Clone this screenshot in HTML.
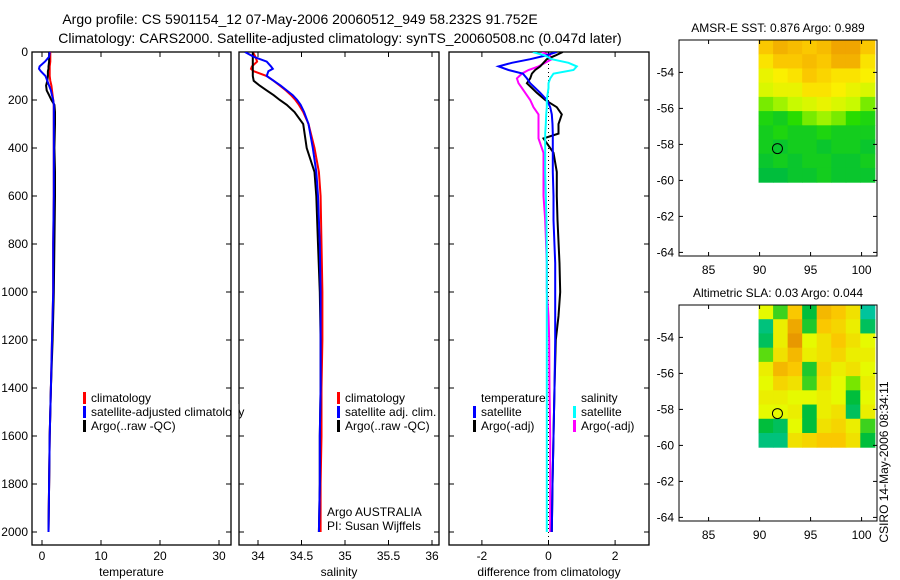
<!DOCTYPE html>
<html><head><meta charset="utf-8">
<style>
body{margin:0;background:#fff;}
svg{display:block;font-family:"Liberation Sans",sans-serif;}
</style></head>
<body>
<svg id="fig" width="900" height="580" viewBox="0 0 900 580" xmlns="http://www.w3.org/2000/svg">
<g id="plots"></g>
<text x="300" y="24" font-size="14" text-anchor="middle">Argo profile: CS 5901154_12 07-May-2006 20060512_949 58.232S 91.752E</text>
<text x="340" y="43" font-size="14" text-anchor="middle">Climatology: CARS2000. Satellite-adjusted climatology: synTS_20060508.nc (0.047d later)</text>
<text x="778" y="32" font-size="12" text-anchor="middle">AMSR-E SST: 0.876 Argo: 0.989</text>
<text x="778" y="297" font-size="12" text-anchor="middle">Altimetric SLA: 0.03 Argo: 0.044</text>
<text transform="translate(888,462) rotate(-90)" font-size="12" text-anchor="middle">CSIRO 14-May-2006 08:34:11</text>
</svg>
<script>
// ---- profile data ----
const depthLevels = [0,20,40,60,70,80,100,120,140,160,180,200,220,250,300,400,500,600,800,1000,1200,1400,1600,1800,2000];
const tempClim = [1.4,1.4,1.4,1.3,1.3,1.3,1.3,1.4,1.6,1.7,1.8,1.9,2.0,2.0,2.0,2.0,2.0,2.0,1.9,1.9,1.7,1.5,1.3,1.2,1.1];
const tempSat  = [1.3,1.2,0.5,-0.4,-0.5,-0.2,0.6,0.9,1.2,1.5,1.7,1.9,2.0,2.0,2.0,2.0,2.0,2.0,1.9,1.9,1.7,1.5,1.3,1.2,1.1];
const tempArgo = [1.2,1.2,1.2,1.1,1.1,1.0,1.0,0.9,0.7,0.8,1.2,1.6,2.1,2.2,2.2,2.1,2.2,2.2,2.1,2.0,1.8,1.5,1.3,1.2,1.1];
const salClim = [33.94,33.97,33.99,33.93,33.92,33.95,34.10,34.18,34.25,34.32,34.38,34.43,34.47,34.52,34.58,34.65,34.70,34.72,34.73,34.74,34.74,34.73,34.73,34.72,34.72];
const salSat  = [33.85,33.95,34.10,34.15,34.17,34.12,34.10,34.18,34.26,34.33,34.40,34.45,34.49,34.53,34.58,34.63,34.67,34.69,34.71,34.72,34.72,34.72,34.71,34.71,34.70];
const salArgo = [33.94,33.94,33.94,33.94,33.94,33.94,33.94,33.95,34.02,34.10,34.18,34.25,34.33,34.42,34.52,34.56,34.65,34.67,34.69,34.71,34.72,34.72,34.71,34.71,34.70];
const diffDepths = [0,15,30,45,60,75,90,110,130,150,170,200,230,260,300,340,360,420,500,600,700,880,1000,1100,1200,1400,1600,1800,2000];
const dTempSat  = [0.25,-0.1,-0.55,-1.1,-1.5,-1.2,-0.77,-0.65,-0.55,-0.4,-0.25,-0.05,0.05,0.1,0.12,0.13,0.13,0.13,0.13,0.15,0.15,0.2,0.2,0.2,0.2,0.18,0.15,0.12,0.1];
const dTempArgo = [0.43,0.2,-0.05,-0.15,-0.25,-0.4,-0.5,-0.55,-0.65,-0.5,-0.35,-0.1,0.25,0.4,0.3,0.3,-0.15,0.15,0.25,0.25,0.27,0.33,0.35,0.3,0.22,0.18,0.15,0.12,0.1];
const dSalSat   = [-0.47,-0.1,0.1,0.6,0.85,0.75,0.15,0.05,0,0,-0.02,-0.05,-0.05,-0.07,-0.08,-0.1,-0.1,-0.1,-0.1,-0.08,-0.06,-0.05,-0.05,-0.05,-0.05,-0.05,-0.05,-0.05,-0.05];
const dSalArgo  = [-0.2,0.05,0.1,-0.1,-0.3,-0.6,-0.8,-0.95,-0.9,-0.8,-0.7,-0.55,-0.45,-0.3,-0.3,-0.3,-0.3,-0.15,-0.15,-0.15,-0.1,-0.05,-0.05,0,0.02,0.03,0.05,0.05,0.05];
const depthTicks = [0,200,400,600,800,1000,1200,1400,1600,1800,2000];
const tempTicks = [0,10,20,30];
const salTicks = [34,34.5,35,35.5,36];
const salTickLabels = ["34","34.5","35","35.5","36"];
const diffTicks = [-2,0,2];
// ---- map data ----
const lonTicks = [85,90,95,100];
const latTicks = [-54,-56,-58,-60,-62,-64];
const sstGrid = [
[.7,.8,.75,.7,.75,.85,.85,.7],
[.6,.7,.7,.75,.7,.8,.8,.6],
[.5,.55,.6,.7,.65,.6,.6,.55],
[.45,.5,.5,.6,.6,.55,.5,.45],
[.3,.35,.4,.45,.5,.45,.4,.3],
[.15,.1,.2,.3,.35,.3,.2,.15],
[.1,.15,.1,.1,.15,.1,.1,.1],
[.1,.05,.1,.1,.05,.1,.1,.05],
[.05,.1,.05,.1,.1,.05,.05,.1],
[0,0,.05,.05,.1,.05,.05,.05]];
const slaGrid = [
[.1,-.3,.5,-.5,.6,.5,.3,-.8],
[-.7,.2,.7,-.4,.5,.4,.2,-.6],
[-.6,.2,.8,.1,.3,.5,.3,.1],
[-.2,.3,.6,.2,.3,.4,.2,.2],
[.2,.6,.5,-.4,.4,.2,.3,.1],
[.1,.4,.3,-.3,.3,.1,-.1,.2],
[.2,.2,.1,.1,.2,.1,-.5,.1],
[.1,.1,.2,-.5,.2,.3,-.6,.2],
[-.5,-.6,.1,-.5,.3,.4,.2,-.3],
[-.7,-.7,.3,.4,.5,.5,.3,-.5]];
const floatLon = 91.752, floatLat = -58.232;
const gridLon = [89.9,101.3], gridLat = [-52.2,-60.1];

const NS="http://www.w3.org/2000/svg";
const root=document.getElementById('plots');
function mk(tag,attrs,parent){const e=document.createElementNS(NS,tag);for(const k in attrs)e.setAttribute(k,attrs[k]);(parent||root).appendChild(e);return e;}
const TOP=52, BOT=545;
const yDepth=d=>TOP+d*0.24;

function panel(name,x0,x1,xs,ticks,labels,title,showDepth){
  const g=mk('g',{});
  
  
  const cp=mk('clipPath',{id:'cp-'+name},g);
  mk('rect',{x:x0,y:TOP,width:x1-x0,height:BOT-TOP},cp);
  const r=mk('rect',{x:x0,y:TOP,width:x1-x0,height:BOT-TOP,fill:'none',stroke:'#000','stroke-width':1.3},g);
  
  
  ticks.forEach((t,i)=>{const x=xs(t);
    mk('line',{x1:x,x2:x,y1:TOP,y2:TOP+5,stroke:'#000'},g);
    mk('line',{x1:x,x2:x,y1:BOT,y2:BOT-5,stroke:'#000'},g);
    const tx=mk('text',{x:x,y:560,'font-size':12,'text-anchor':'middle'},g);tx.textContent=labels[i];
    
    
  });
  depthTicks.forEach(d=>{const y=yDepth(d);
    mk('line',{x1:x0,x2:x0+5,y1:y,y2:y,stroke:'#000'},g);
    mk('line',{x1:x1,x2:x1-5,y1:y,y2:y,stroke:'#000'},g);
    if(showDepth){const tx=mk('text',{x:x0-4,y:y+4,'font-size':12,'text-anchor':'end'},g);tx.textContent=d;
      
      }
  });
  const tt=mk('text',{x:(x0+x1)/2,y:576,'font-size':12,'text-anchor':'middle'},g);tt.textContent=title;
  
  
  return mk('g',{'clip-path':'url(#cp-'+name+')'},g);
}
function line(g,xs,vals,depths,color,name,w){
  const pts=vals.map((v,i)=>xs(v).toFixed(1)+','+yDepth(depths[i]).toFixed(1)).join(' ');
  const p=mk('polyline',{points:pts,fill:'none',stroke:color,'stroke-width':w||2},g);
  
  
}
function legend(x,y,color,label,name){
  if(color){mk('rect',{x:x,y:y-10,width:3,height:12,fill:color});}
  const t=mk('text',{x:x+8,y:y,'font-size':12});t.textContent=label;
  
  
}
// temperature
const xT=v=>42+5.9*v;
let g=panel('temperature-panel',32,231,xT,tempTicks,tempTicks.map(String),'temperature',true);
line(g,xT,tempClim,depthLevels,'#f00','temp-climatology-line');
line(g,xT,tempArgo,depthLevels,'#000','temp-argo-line');
line(g,xT,tempSat,depthLevels,'#00f','temp-satellite-line');
// salinity
const xS=v=>258+87*(v-34);
g=panel('salinity-panel',239,439,xS,salTicks,salTickLabels,'salinity',false);
line(g,xS,salClim,depthLevels,'#f00','sal-climatology-line');
line(g,xS,salArgo,depthLevels,'#000','sal-argo-line');
line(g,xS,salSat,depthLevels,'#00f','sal-satellite-line');
// difference
const xD=v=>548.5+33.3*v;
g=panel('difference-panel',449,649,xD,diffTicks,diffTicks.map(String),'difference from climatology',false);
mk('line',{x1:xD(0),x2:xD(0),y1:TOP,y2:BOT,stroke:'#000','stroke-dasharray':'1,3'},g);
line(g,xD,dSalArgo,diffDepths,'#f0f','diff-sal-argo-line');
line(g,xD,dTempArgo,diffDepths,'#000','diff-temp-argo-line');
line(g,xD,dTempSat,diffDepths,'#00f','diff-temp-satellite-line');
line(g,xD,dSalSat,diffDepths,'#0ff','diff-sal-satellite-line');
// legends
legend(83,402,'#f00','climatology','legend-climatology');
legend(83,416,'#00f','satellite-adjusted climatology','legend-satellite-adjusted');
legend(83,430,'#000','Argo(..raw -QC)','legend-argo-raw');
legend(337,402,'#f00','climatology','legend-sal-climatology');
legend(337,416,'#00f','satellite adj. clim.','legend-sal-satellite');
legend(337,430,'#000','Argo(..raw -QC)','legend-sal-argo');
legend(319,516,null,'Argo AUSTRALIA','argo-australia-label');
legend(319,530,null,'PI: Susan Wijffels','pi-label');
legend(473,402,null,'temperature','legend-temperature-heading');
legend(473,416,'#00f','satellite','legend-temp-satellite');
legend(473,430,'#000','Argo(-adj)','legend-temp-argo');
legend(573,402,null,'salinity','legend-salinity-heading');
legend(573,416,'#0ff','satellite','legend-sal-satellite-diff');
legend(573,430,'#f0f','Argo(-adj)','legend-sal-argo-diff');
mk('rect',{x:232,y:404,width:6.4,height:16,fill:'#fff'});

// ---- maps ----
function lerp(a,b,t){return a.map((v,i)=>Math.round(v+(b[i]-v)*t));}
function ramp(stops,v){for(let i=0;i<stops.length-1;i++){if(v<=stops[i+1][0]){const t=(v-stops[i][0])/(stops[i+1][0]-stops[i][0]);const c=lerp(stops[i][1],stops[i+1][1],Math.max(0,t));return 'rgb('+c.join(',')+')';}}const c=stops[stops.length-1][1];return 'rgb('+c.join(',')+')';}
const sstStops=[[0,[0,190,60]],[0.2,[40,220,0]],[0.4,[200,250,0]],[0.55,[250,240,0]],[0.7,[250,200,0]],[1,[230,130,0]]];
const slaStops=[[-1,[0,200,220]],[-0.5,[0,190,60]],[-0.1,[120,230,0]],[0.1,[230,250,0]],[0.5,[250,200,0]],[1,[220,120,0]]];
function map(name,top,grid,stops){
  const L=679,R=877,B=top+216;
  const xL=v=>L+(v-82.1)*10.2;
  const yL=v=>top+(-52.2-v)*18;
  const g=mk('g',{});
  
  
  const nr=grid.length,nc=grid[0].length;
  const gx0=xL(gridLon[0]),gx1=Math.min(R,xL(gridLon[1])),gy0=yL(gridLat[0]),gy1=yL(gridLat[1]);
  const cw=(gx1-gx0)/nc,ch=(gy1-gy0)/nr;
  grid.forEach((row,ri)=>row.forEach((v,ci)=>{
    const c=mk('rect',{x:gx0+ci*cw,y:gy0+ri*ch,width:cw+0.5,height:ch+0.5,fill:ramp(stops,v)},g);
    
    
  }));
  mk('rect',{x:L,y:top,width:R-L,height:B-top,fill:'none',stroke:'#000'},g);
  lonTicks.forEach(v=>{const x=xL(v);
    mk('line',{x1:x,x2:x,y1:B,y2:B-4,stroke:'#000'},g);mk('line',{x1:x,x2:x,y1:top,y2:top+4,stroke:'#000'},g);
    const t=mk('text',{x:x,y:B+18,'font-size':12,'text-anchor':'middle'},g);t.textContent=v;
    
    });
  latTicks.forEach(v=>{const y=yL(v);
    mk('line',{x1:L,x2:L+4,y1:y,y2:y,stroke:'#000'},g);mk('line',{x1:R,x2:R-4,y1:y,y2:y,stroke:'#000'},g);
    const t=mk('text',{x:L-5,y:y+4,'font-size':12,'text-anchor':'end'},g);t.textContent=v;
    
    });
  const m=mk('circle',{cx:xL(floatLon),cy:yL(floatLat),r:5,fill:'none',stroke:'#000'},g);
  
  
}
map('sst-map',40,sstGrid,sstStops);
map('sla-map',305,slaGrid,slaStops);
</script>
</body></html>
